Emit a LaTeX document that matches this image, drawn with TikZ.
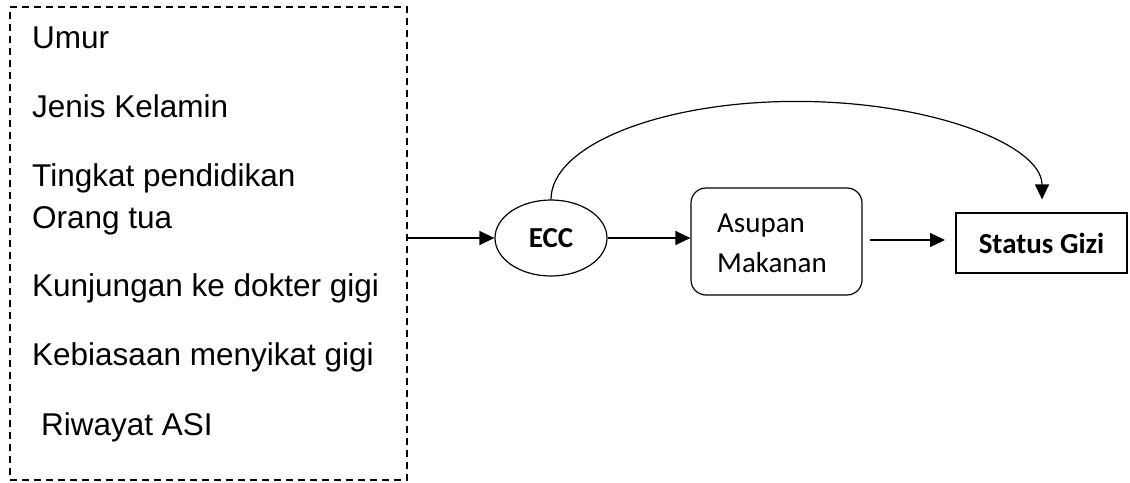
\documentclass[tikz,border=0pt]{standalone}
\usepackage{fontspec}
\setmainfont{Liberation Sans}
\newfontfamily\calfont{Carlito}
\usetikzlibrary{shapes.geometric,arrows.meta}
\begin{document}
\begin{tikzpicture}[x=1pt,y=-1pt,
  ln/.style={line width=1.2pt},
  arr/.style={ln,-{Triangle[length=15pt,width=14pt]}},
  ltext/.style={anchor=base west,inner sep=0pt,font=\fontsize{31.5}{37}\selectfont},
  ctext/.style={anchor=base west,inner sep=0pt,font=\calfont\fontsize{29}{34}\selectfont}]
\useasboundingbox (0,0) rectangle (1130,482);
% dashed factor box
\node[draw,ln,dash pattern=on 7pt off 5pt,minimum width=397pt,minimum height=473pt,inner sep=0pt] (box) at (208.5,243.5) {};
\node[ltext] (t1) at (32,48) {Umur};
\node[ltext] (t2) at (32,117) {Jenis Kelamin};
\node[ltext] (t3) at (32,186) {Tingkat pendidikan};
\node[ltext] (t4) at (32,228) {Orang tua};
\node[ltext] (t5) at (32,296) {Kunjungan ke dokter gigi};
\node[ltext] (t6) at (32,365) {Kebiasaan menyikat gigi};
\node[ltext] (t7) at (41,435) {Riwayat ASI};
% ECC
\node[draw,ln,ellipse,minimum width=112pt,minimum height=76pt,inner sep=0pt,font=\calfont\bfseries\fontsize{29}{34}\selectfont] (ecc) at (551,238) {ECC};
% Asupan makanan
\node[draw,ln,rounded corners=15pt,minimum width=171pt,minimum height=107pt,inner sep=0pt] (asupan) at (776.5,241.5) {};
\node[ctext] (a1) at (717,232) {Asupan};
\node[ctext] (a2) at (717,272) {Makanan};
% Status gizi
\node[draw,ln,minimum width=171pt,minimum height=60pt,inner sep=0pt,font=\calfont\bfseries\fontsize{29}{34}\selectfont] (status) at (1041.5,243) {Status Gizi};
% connectors
\draw[arr] (box.east |- ecc.west) -- (ecc.west);
\draw[arr] (ecc.east) -- (ecc.east -| asupan.west);
\coordinate (s1) at (870,240);
\coordinate (s2) at (945,240);
\draw[arr] (s1) -- (s2);
\draw[arr] (ecc.north) arc[start angle=180,end angle=0,x radius=245.5pt,y radius=98pt];
\end{tikzpicture}
\end{document}
